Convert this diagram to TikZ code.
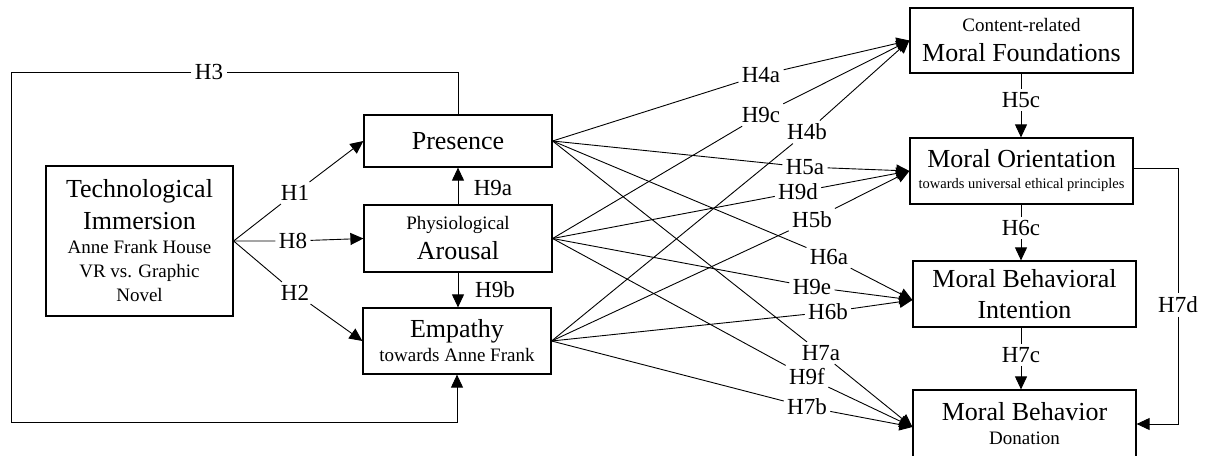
\documentclass[tikz,border=0pt]{standalone}
\usepackage{fontspec}
\setmainfont{Liberation Serif}
\usepackage{tikz}
\usetikzlibrary{arrows.meta, positioning}

\newcommand{\boxtitle}{\fontsize{26}{30}\selectfont}
\newcommand{\boxsub}{\fontsize{19}{24}\selectfont}
\newcommand{\boxnote}{\fontsize{14.5}{18}\selectfont}

\begin{document}
\begin{tikzpicture}[x=1pt, y=-1pt, line width=0.9pt,
    box/.style={draw, line width=1.2pt, align=center, inner sep=0pt, font=\boxsub},
    hyp/.style={inner sep=3pt, font=\fontsize{23}{23}\selectfont},
    arr/.style={-{Triangle[length=13pt,width=12pt]}}]
  \useasboundingbox (0,0) rectangle (1206,455);

  % constructs
  \node[box, minimum width=187pt, minimum height=150pt] (tech) at (139.5,241)
    {{\boxtitle Technological}\\[8pt]{\boxtitle Immersion}\\Anne Frank House\\VR vs. Graphic\\Novel};
  \node[box, minimum width=188pt, minimum height=52pt] (pres) at (458,141) {\boxtitle Presence};
  \node[box, minimum width=188pt, minimum height=67pt] (arou) at (458,238.5)
    {Physiological\\[6pt]{\boxtitle Arousal}};
  \node[box, minimum width=188pt, minimum height=66pt] (emp) at (457,341)
    {{\boxtitle Empathy}\\towards Anne Frank};
  \node[box, minimum width=223pt, minimum height=65pt] (mf) at (1021.5,40.5)
    {Content-related\\[6pt]{\boxtitle Moral Foundations}};
  \node[box, minimum width=223pt, minimum height=66pt] (mo) at (1021.5,171)
    {{\boxtitle Moral Orientation}\\[-3pt]{\boxnote towards universal ethical principles}};
  \node[box, minimum width=223pt, minimum height=66pt] (mbi) at (1024.5,294)
    {{\boxtitle Moral Behavioral}\\[7pt]{\boxtitle Intention}};
  \node[box, minimum width=223pt, minimum height=68pt] (mb) at (1024.5,424)
    {{\boxtitle Moral Behavior}\\Donation};

  % hypotheses
  \node[hyp] (h1) at (295,193) {H1};
  \node[hyp] (h8) at (293,241) {H8};
  \node[hyp] (h2) at (295,293) {H2};
  \node[hyp] (h3) at (209,72) {H3};
  \node[hyp] (h9a) at (493,188) {H9a};
  \node[hyp] (h9b) at (495,290) {H9b};
  \node[hyp] (h4a) at (761,75) {H4a};
  \node[hyp] (h9c) at (761,115) {H9c};
  \node[hyp] (h4b) at (807,132) {H4b};
  \node[hyp] (h5a) at (805,167) {H5a};
  \node[hyp] (h9d) at (798,192) {H9d};
  \node[hyp] (h5b) at (812,220) {H5b};
  \node[hyp] (h6a) at (829,257) {H6a};
  \node[hyp] (h9e) at (812,287) {H9e};
  \node[hyp] (h6b) at (828,312) {H6b};
  \node[hyp] (h7a) at (821,353) {H7a};
  \node[hyp] (h9f) at (807,377) {H9f};
  \node[hyp] (h7b) at (807,407) {H7b};
  \node[hyp] (h5c) at (1021,100) {H5c};
  \node[hyp] (h6c) at (1021,228) {H6c};
  \node[hyp] (h7c) at (1021,355) {H7c};
  \node[hyp] (h7d) at (1178,305) {H7d};
  \coordinate (h3bl) at (11,422);

  % immersion paths
  \draw[arr] (tech.east) -- (h1) -- (pres.west);
  \draw[arr] (tech.east) -- (h8) -- (arou.west);
  \draw[arr] (tech.east) -- (h2) -- (emp.west);
  \draw (pres.north) |- (h3);
  \draw[arr] (h3) -| (h3bl) -| (emp.south);
  \draw[arr] (arou.north) -- (pres.south);
  \draw[arr] (arou.south) -- (arou.south |- emp.north);

  % to moral foundations
  \draw[arr] (pres.east) -- (h4a) -- (mf.west);
  \draw[arr] (arou.east) -- (h9c) -- (mf.west);
  \draw[arr] (emp.east) -- (h4b) -- (mf.west);
  % to moral orientation
  \draw[arr] (pres.east) -- (h5a) -- (mo.west);
  \draw[arr] (arou.east) -- (h9d) -- (mo.west);
  \draw[arr] (emp.east) -- (h5b) -- (mo.west);
  % to intention
  \draw[arr] (pres.east) -- (h6a) -- ([yshift=-6pt]mbi.west);
  \draw[arr] (arou.east) -- (h9e) -- ([yshift=-6pt]mbi.west);
  \draw[arr] (emp.east) -- (h6b) -- ([yshift=-6pt]mbi.west);
  % to behavior
  \draw[arr] (pres.east) -- (h7a) -- ([yshift=-3pt]mb.west);
  \draw[arr] (arou.east) -- (h9f) -- ([yshift=-3pt]mb.west);
  \draw[arr] (emp.east) -- (h7b) -- ([yshift=-3pt]mb.west);

  % right column
  \draw[arr] (mf.south -| h5c) -- (h5c) -- (h5c |- mo.north);
  \draw[arr] (mo.south -| h6c) -- (h6c) -- (h6c |- mbi.north);
  \draw[arr] (mbi.south -| h7c) -- (h7c) -- (h7c |- mb.north);
  \draw ([yshift=3pt]mo.east) -| (h7d);
  \draw[arr] (h7d) |- (mb.east);
\end{tikzpicture}
\end{document}
